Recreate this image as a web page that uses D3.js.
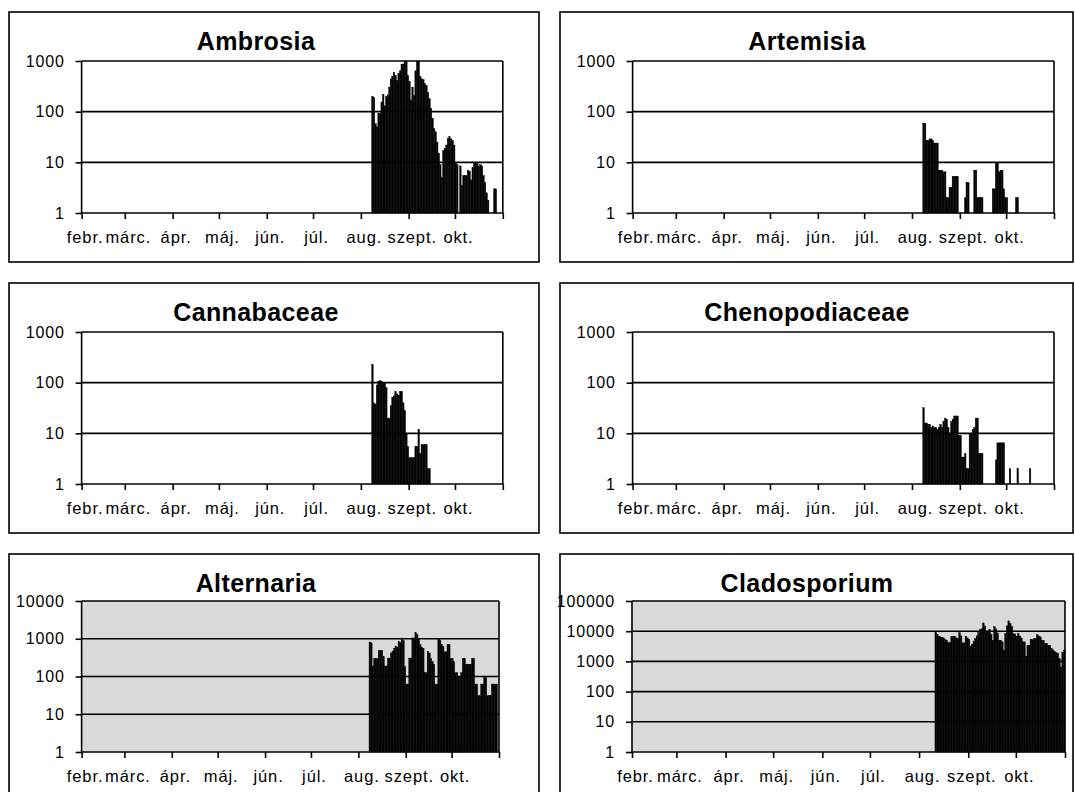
<!DOCTYPE html>
<html><head><meta charset="utf-8">
<script src="https://cdn.jsdelivr.net/npm/d3@7"></script>
<style>
body{margin:0;background:#fff}
svg{display:block}
text{font-family:Arial,"Liberation Sans",sans-serif;fill:#000}
</style>
</head><body>
<svg id="c" width="1075" height="792"></svg>
<script>
// ---- categories (month ticks on the daily time axis) ----
const monthLabels = ["febr.","márc.","ápr.","máj.","jún.","júl.","aug.","szept.","okt."];
const axisStart = "2007-02-01";
const axisEnd = "2007-11-01";

// ---- series (daily counts, starting at the given date) ----
const ambrosiaStart = "2007-08-08";
const ambrosia = [200,190,58,50,91,91,155,220,130,200,215,305,445,500,600,520,410,560,640,870,
  870,1000,1000,520,400,170,305,210,640,1000,1000,500,445,430,355,330,240,180,115,73,
  46,40,25,15,9,5,17,19,22,30,32,29,27,22,10,9,1,8.5,3.5,5.5,
  5.5,5.5,7,6.6,4.5,8,9.5,10,9.5,8.5,9,8.5,5.5,4,2.5,1.8,1,1,1,3,3,1];

const artemisiaStart = "2007-08-08";
const artemisia = [59,58,27,27,29,29,27,24,24,24,7,7,7,6.5,6.5,2,2,3.2,3.2,5.3,
  5.3,5.3,5.3,0,0,0,0,2,4,4,0,0,0,7,7,2,2,2,2,0,
  0,0,0,0,0,3,3,10,10,6.5,7,7,3,2,2,0,0,0,0,0,2,2];

const cannabaceaeStart = "2007-08-08";
const cannabaceae = [230,40,38,90,105,110,105,100,100,80,20,20,35,52,55,67,60,56,67,67,
  40,28,10,5.5,3.3,3.3,3.3,3.3,5.5,5.5,12,4,6,6,6,6,2,2];

const chenopodiaceaeStart = "2007-08-08";
const chenopodiaceae = [32,16,16,15,15,13,14,13,13,12,13,15,13,17,20,19,13,10,17,19,
  22,22,22,9,9,3.4,3.4,4,2,2,10,10,12,13,20,20,4,4,4,0,
  0,0,0,0,0,0,0,3,6.5,6.5,6.5,6.5,6.5,0,0,0,2,0,0,0,0,2,0,0,0,0,0,0,0,2];

const alternariaStart = "2007-08-08";
const alternaria = [820,780,190,300,300,300,490,490,490,336,190,190,307,307,420,470,560,640,600,860,
  800,1050,900,183,63,63,307,307,1050,1050,1440,1300,1000,700,600,560,126,126,470,420,
  300,250,210,63,63,1000,900,700,620,450,450,720,700,300,300,250,126,126,100,100,
  126,300,300,210,210,210,210,300,300,63,63,31,31,63,63,95,95,31,31,31,63,63,63,63];

const cladosporiumStart = "2007-08-11";
const cladosporium = [9000,8000,6800,6500,6200,6000,5300,5000,4200,4200,6800,6800,6800,6000,5700,9000,7000,4100,4100,6800,
  6000,5300,3050,3700,4500,5700,7000,9000,11300,12000,18800,15000,9500,10000,11300,8000,5000,14000,12000,8800,
  5000,5000,4450,2360,8400,15000,22000,18000,14600,8400,8000,6800,8400,7000,6000,4450,4450,1500,3450,3450,
  5300,5300,5700,5700,7700,7000,6500,5000,5000,3900,3900,3450,3450,2700,2400,2100,1950,1850,1250,650,2000,2360];

// ---- value-axis tick labels ----
const ticks1000 = [1,10,100,1000];
const ticks10000 = [1,10,100,1000,10000];
const ticks100000 = [1,10,100,1000,10000,100000];

// ---- layout ----
const panels = [
  {title:"Ambrosia", values:ambrosia, start:ambrosiaStart, ticks:ticks1000, box:[9,12,530,250], plot:[81.6,502.8,61,213], bg:"#fff"},
  {title:"Artemisia", values:artemisia, start:artemisiaStart, ticks:ticks1000, box:[560,12,513,250], plot:[632.6,1054,61,213], bg:"#fff"},
  {title:"Cannabaceae", values:cannabaceae, start:cannabaceaeStart, ticks:ticks1000, box:[9,283,530,250], plot:[81.6,502.8,332,484], bg:"#fff"},
  {title:"Chenopodiaceae", values:chenopodiaceae, start:chenopodiaceaeStart, ticks:ticks1000, box:[560,283,513,250], plot:[632.6,1054,332,484], bg:"#fff"},
  {title:"Alternaria", values:alternaria, start:alternariaStart, ticks:ticks10000, box:[9,554,530,250], plot:[81.6,499,601,752], bg:"#d9d9d9"},
  {title:"Cladosporium", values:cladosporium, start:cladosporiumStart, ticks:ticks100000, box:[560,554,513,250], plot:[632,1065,601,752], bg:"#d9d9d9"}
];

const parse = d3.utcParse("%Y-%m-%d");
const svg = d3.select("#c");
const d0 = parse(axisStart), d1 = parse(axisEnd);
const monthTicks = d3.utcMonth.range(d0, d3.utcDay.offset(d1,1));

panels.forEach(p => {
  const g = svg.append("g");
  const [bx,by,bw,bh] = p.box;
  const [px0,px1,py0,py1] = p.plot;
  const maxV = p.ticks[p.ticks.length-1];
  g.append("rect").attr("x",bx).attr("y",by).attr("width",bw).attr("height",bh)
    .attr("fill","#fff").attr("stroke","#000").attr("stroke-width",1.6);

  const x = d3.scaleUtc().domain([d0,d1]).range([px0,px1]);
  const y = d3.scaleLog().domain([1,maxV]).range([py1,py0]);

  g.append("rect").attr("x",px0).attr("y",py0).attr("width",px1-px0).attr("height",py1-py0)
    .attr("fill",p.bg);

  // gridlines
  g.selectAll(".grid").data(p.ticks.slice(1)).join("line")
    .attr("x1",px0).attr("x2",px1).attr("y1",d=>y(d)).attr("y2",d=>y(d))
    .attr("stroke","#000").attr("stroke-width",1.6);

  // bars
  const s = parse(p.start);
  const bars = p.values.map((v,i)=>({a:d3.utcDay.offset(s,i), b:d3.utcDay.offset(s,i+1), v}))
    .filter(d=>d.v>1);
  g.selectAll(".bar").data(bars).join("rect")
    .attr("x",d=>x(d.a)).attr("width",d=>x(d.b)-x(d.a))
    .attr("y",d=>y(Math.min(d.v,maxV))).attr("height",d=>y(1)-y(Math.min(d.v,maxV)))
    .attr("fill","#000").attr("stroke","#000").attr("stroke-width",0.4);

  // right border of plot
  g.append("line").attr("x1",px1).attr("x2",px1).attr("y1",py0).attr("y2",py1)
    .attr("stroke","#000").attr("stroke-width",1.6);

  // y axis
  const ya = g.append("g").attr("transform",`translate(${px0},0)`)
    .call(d3.axisLeft(y).tickValues(p.ticks).tickSize(6).tickPadding(11).tickFormat(d3.format("d")));
  ya.select(".domain").attr("stroke-width",1.6).attr("d",`M0,${py0}V${py1}`);
  ya.selectAll(".tick line").attr("stroke-width",1.6);
  ya.selectAll("text").style("font-size","16px").attr("letter-spacing","0.8px");

  // x axis
  const xa = g.append("g").attr("transform",`translate(0,${py1})`)
    .call(d3.axisBottom(x).tickValues(monthTicks).tickSize(6).tickPadding(12)
      .tickFormat((d,i)=> monthLabels[i] || ""));
  xa.select(".domain").attr("stroke-width",1.6).attr("d",`M${px0},0H${px1}`);
  xa.selectAll(".tick line").attr("stroke-width",1.6);
  xa.selectAll("text").style("font-size","16.5px").attr("letter-spacing","0.9px").attr("dx","3");

  // title
  g.append("text").attr("x",bx+247).attr("y",by+38).attr("text-anchor","middle")
    .style("font-size","25px").style("font-weight","bold").attr("letter-spacing","0.4px")
    .text(p.title);
});
</script>
</body></html>
